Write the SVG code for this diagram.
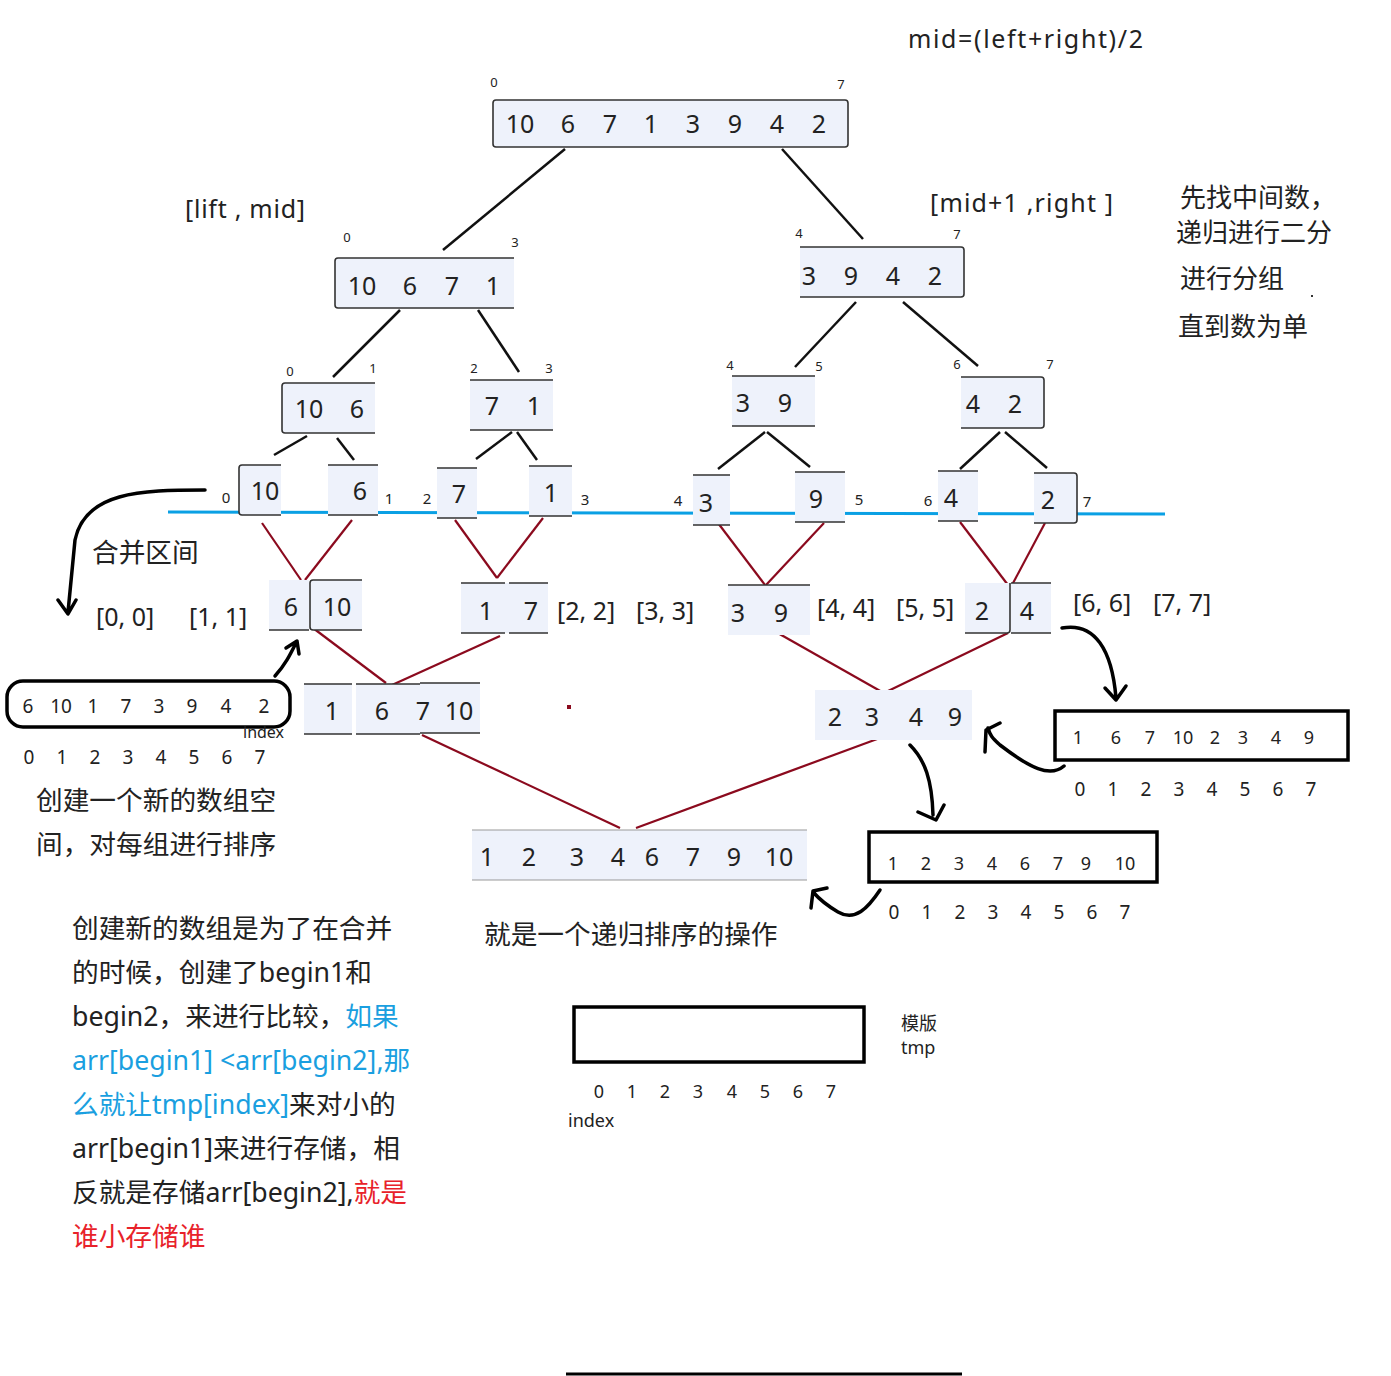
<svg xmlns="http://www.w3.org/2000/svg" width="1391" height="1376" viewBox="0 0 1391 1376">
<style>
text{font-family:"Noto Sans","Noto Sans CJK SC",sans-serif;fill:#222}
.n{font-size:25px;text-anchor:middle}
.i{font-size:13px;text-anchor:middle}
.s{font-size:19px;text-anchor:middle}
.cn{font-size:26.7px}
.nt{font-size:26px}
.lb{font-size:25px}
.cell{fill:#eef2fb}
.bd{fill:none;stroke:#333;stroke-width:1.6}
.tree{stroke:#111;stroke-width:2.5;fill:none}
.merge{stroke:#8b0a1e;stroke-width:2.2;fill:none}
.hand{stroke:#000;stroke-width:3.5;fill:none;stroke-linecap:round;stroke-linejoin:round}
.box{fill:none;stroke:#000;stroke-width:3.5}
.blue{fill:#1a9fe0}
.red{fill:#e8222a}
</style>
<rect width="1391" height="1376" fill="#fff"/>

<text class="lb" x="908" y="48" textLength="235" lengthAdjust="spacing">mid=(left+right)/2</text>
<text class="lb" x="185" y="218" textLength="120" lengthAdjust="spacing">[lift , mid]</text>
<text class="lb" x="930" y="212" textLength="183" lengthAdjust="spacing">[mid+1 ,right ]</text>

<g id="connectors">
<line class="tree" x1="565" y1="149" x2="443" y2="250"/>
<line class="tree" x1="782" y1="149" x2="863" y2="239"/>
<line class="tree" x1="400" y1="310" x2="333" y2="377"/>
<line class="tree" x1="478" y1="310" x2="519" y2="372"/>
<line class="tree" x1="856" y1="302" x2="795" y2="367"/>
<line class="tree" x1="903" y1="302" x2="978" y2="366"/>
<line class="tree" x1="307" y1="436" x2="274" y2="455"/>
<line class="tree" x1="337" y1="438" x2="354" y2="460"/>
<line class="tree" x1="512" y1="432" x2="476" y2="459"/>
<line class="tree" x1="517" y1="432" x2="537" y2="460"/>
<line class="tree" x1="765" y1="432" x2="718" y2="469"/>
<line class="tree" x1="767" y1="432" x2="810" y2="467"/>
<line class="tree" x1="1000" y1="432" x2="960" y2="469"/>
<line class="tree" x1="1005" y1="432" x2="1047" y2="468"/>
<line x1="168" y1="512" x2="1165" y2="514" stroke="#0aa0e4" stroke-width="3"/>
<line class="merge" x1="262" y1="523" x2="301" y2="580"/>
<line class="merge" x1="352" y1="520" x2="305" y2="580"/>
<line class="merge" x1="455" y1="520" x2="497" y2="578"/>
<line class="merge" x1="543" y1="518" x2="497" y2="578"/>
<line class="merge" x1="718" y1="523" x2="765" y2="585"/>
<line class="merge" x1="824" y1="523" x2="766" y2="585"/>
<line class="merge" x1="960" y1="522" x2="1008" y2="585"/>
<line class="merge" x1="1045" y1="523" x2="1012" y2="585"/>
<line class="merge" x1="313" y1="628" x2="386" y2="683"/>
<line class="merge" x1="500" y1="636" x2="392" y2="685"/>
<line class="merge" x1="776" y1="632" x2="882" y2="692"/>
<line class="merge" x1="1008" y1="633" x2="886" y2="692"/>
<line class="merge" x1="422" y1="735" x2="620" y2="828"/>
<line class="merge" x1="888" y1="735" x2="636" y2="828"/>
<rect x="567" y="705" width="4" height="4" fill="#8b0a1e"/>
<path class="hand" d="M205,490 C140,490 85,492 75,540 L68,612 M58,600 L68,614 L76,600"/>
<path class="hand" d="M275,676 C285,665 290,655 296,643 M286,648 L297,641 L299,654"/>
<path class="hand" d="M1062,628 C1095,622 1112,650 1116,698 M1105,688 L1116,700 L1126,686"/>
<path class="hand" d="M1064,766 C1050,778 1030,768 1000,745 C992,738 990,735 988,728 M985,752 L986,730 L1000,723"/>
<path class="hand" d="M910,745 C925,760 932,780 933,815 M918,812 L936,820 L944,805"/>
<path class="hand" d="M880,890 C868,908 855,922 838,912 C828,906 820,900 814,893 M811,908 L813,891 L827,888"/>
</g>

<g id="n-root">
<rect class="cell" x="493" y="100" width="355" height="47" rx="3"/>
<rect class="bd" x="493" y="100" width="355" height="47" rx="3"/>
<text class="i" x="494" y="87">0</text><text class="i" x="841" y="89">7</text>
<text class="n" y="133"><tspan x="520">10</tspan><tspan x="568">6</tspan><tspan x="610">7</tspan><tspan x="651">1</tspan><tspan x="693">3</tspan><tspan x="735">9</tspan><tspan x="777">4</tspan><tspan x="819">2</tspan></text>
</g>

<g id="n-l">
<rect class="cell" x="335" y="258" width="179" height="50"/>
<path class="bd" d="M514,258 H338 Q335,258 335,261 V305 Q335,308 338,308 H514"/>
<text class="i" x="347" y="242">0</text><text class="i" x="515" y="247">3</text>
<text class="n" y="295"><tspan x="362">10</tspan><tspan x="410">6</tspan><tspan x="452">7</tspan><tspan x="493">1</tspan></text>
</g>
<g id="n-r">
<rect class="cell" x="800" y="247" width="164" height="50"/>
<path class="bd" d="M800,247 H961 Q964,247 964,250 V294 Q964,297 961,297 H800"/>
<text class="i" x="799" y="238">4</text><text class="i" x="957" y="239">7</text>
<text class="n" y="285"><tspan x="809">3</tspan><tspan x="851">9</tspan><tspan x="893">4</tspan><tspan x="935">2</tspan></text>
</g>

<g id="n-ll">
<rect class="cell" x="282" y="383" width="93" height="50"/>
<path class="bd" d="M375,383 H285 Q282,383 282,386 V430 Q282,433 285,433 H375"/>
<text class="i" x="290" y="376">0</text><text class="i" x="373" y="373">1</text>
<text class="n" y="418"><tspan x="309">10</tspan><tspan x="357">6</tspan></text>
</g>
<g id="n-lr">
<rect class="cell" x="470" y="380" width="83" height="50"/>
<path class="bd" d="M470,380 H553 M470,430 H553"/>
<text class="i" x="474" y="373">2</text><text class="i" x="549" y="373">3</text>
<text class="n" y="415"><tspan x="492">7</tspan><tspan x="534">1</tspan></text>
</g>
<g id="n-rl">
<rect class="cell" x="732" y="376" width="83" height="50"/>
<path class="bd" d="M732,376 H815 M732,426 H815"/>
<text class="i" x="730" y="370">4</text><text class="i" x="819" y="371">5</text>
<text class="n" y="412"><tspan x="743">3</tspan><tspan x="785">9</tspan></text>
</g>
<g id="n-rr">
<rect class="cell" x="961" y="377" width="83" height="51"/>
<path class="bd" d="M961,377 H1041 Q1044,377 1044,380 V425 Q1044,428 1041,428 H961"/>
<text class="i" x="957" y="369">6</text><text class="i" x="1050" y="369">7</text>
<text class="n" y="413"><tspan x="973">4</tspan><tspan x="1015">2</tspan></text>
</g>

<g id="leaf0">
<rect class="cell" x="239" y="465" width="42" height="50"/>
<path class="bd" d="M281,465 H242 Q239,465 239,468 V512 Q239,515 242,515 H281"/>
<text class="i" x="226" y="503" style="font-size:15px">0</text>
<text class="n" x="265" y="500">10</text>
</g>
<g id="leaf1">
<rect class="cell" x="328" y="465" width="50" height="50"/>
<path class="bd" d="M328,465 H378 M328,515 H378"/>
<text class="i" x="389" y="504" style="font-size:15px">1</text>
<text class="n" x="360" y="500">6</text>
</g>
<g id="leaf2">
<rect class="cell" x="437" y="468" width="40" height="50"/>
<path class="bd" d="M437,468 H477 M437,518 H477"/>
<text class="i" x="427" y="504" style="font-size:15px">2</text>
<text class="n" x="459" y="503">7</text>
</g>
<g id="leaf3">
<rect class="cell" x="529" y="466" width="43" height="50"/>
<path class="bd" d="M529,466 H572 M529,516 H572"/>
<text class="i" x="585" y="505" style="font-size:15px">3</text>
<text class="n" x="551" y="502">1</text>
</g>
<g id="leaf4">
<rect class="cell" x="693" y="475" width="37" height="50"/>
<path class="bd" d="M693,475 H730 M693,525 H730"/>
<text class="i" x="678" y="506" style="font-size:15px">4</text>
<text class="n" x="706" y="512">3</text>
</g>
<g id="leaf5">
<rect class="cell" x="795" y="472" width="50" height="50"/>
<path class="bd" d="M795,472 H845 M795,522 H845"/>
<text class="i" x="859" y="505" style="font-size:15px">5</text>
<text class="n" x="816" y="508">9</text>
</g>
<g id="leaf6">
<rect class="cell" x="938" y="471" width="40" height="50"/>
<path class="bd" d="M938,471 H978 M938,521 H978"/>
<text class="i" x="928" y="506" style="font-size:15px">6</text>
<text class="n" x="951" y="507">4</text>
</g>
<g id="leaf7">
<rect class="cell" x="1034" y="473" width="43" height="50"/>
<path class="bd" d="M1034,473 H1074 Q1077,473 1077,476 V520 Q1077,523 1074,523 H1034"/>
<text class="i" x="1087" y="507" style="font-size:15px">7</text>
<text class="n" x="1048" y="509">2</text>
</g>

<g id="n-m01">
<rect class="cell" x="269" y="580" width="40" height="50"/>
<rect class="cell" x="310" y="580" width="52" height="50"/>
<path class="bd" d="M269,630 H309 M362,580 H313 Q310,580 310,583 V627 Q310,630 313,630 H362"/>
<text class="n" y="616"><tspan x="291">6</tspan><tspan x="337">10</tspan></text>
</g>
<g id="n-m23">
<rect class="cell" x="461" y="583" width="48" height="50"/>
<rect class="cell" x="509" y="583" width="39" height="50"/>
<path class="bd" d="M461,583 H505 M461,633 H505 M509,583 H548 M509,633 H548"/>
<text class="n" y="620"><tspan x="486">1</tspan><tspan x="531">7</tspan></text>
</g>
<g id="n-m45">
<rect class="cell" x="728" y="585" width="82" height="50"/>
<path class="bd" d="M728,585 H810"/>
<text class="n" y="622"><tspan x="738">3</tspan><tspan x="781">9</tspan></text>
</g>
<g id="n-m67">
<rect class="cell" x="965" y="583" width="45" height="50"/>
<rect class="cell" x="1011" y="583" width="40" height="50"/>
<path class="bd" d="M965,633 H1007 Q1010,633 1010,630 V583 M1011,583 H1051 M1011,633 H1051"/>
<text class="n" y="620"><tspan x="982">2</tspan><tspan x="1027">4</tspan></text>
</g>
<text class="lb" y="620"><tspan x="557">[2, 2]</tspan><tspan x="636">[3, 3]</tspan></text>
<text class="lb" y="617"><tspan x="817">[4, 4]</tspan><tspan x="896">[5, 5]</tspan></text>
<text class="lb" y="612"><tspan x="1073">[6, 6]</tspan><tspan x="1153">[7, 7]</tspan></text>
<text class="cn" x="92" y="562">合并区间</text>
<text class="lb" y="626"><tspan x="96">[0, 0]</tspan><tspan x="189">[1, 1]</tspan></text>

<g id="n-m0123">
<rect class="cell" x="304" y="684" width="48" height="50"/>
<rect class="cell" x="356" y="684" width="64" height="50"/>
<rect class="cell" x="420" y="683" width="60" height="50"/>
<path class="bd" d="M304,684 H352 M304,734 H352 M356,684 H420 M356,734 H420 M420,683 H480 M420,733 H480"/>
<text class="n" y="720"><tspan x="332">1</tspan><tspan x="382">6</tspan><tspan x="423">7</tspan><tspan x="459">10</tspan></text>
</g>
<g id="n-m4567">
<rect class="cell" x="815" y="690" width="157" height="50"/>
<text class="n" y="726"><tspan x="835">2</tspan><tspan x="872">3</tspan><tspan x="916">4</tspan><tspan x="955">9</tspan></text>
</g>
<g id="n-final">
<rect class="cell" x="472" y="830" width="335" height="50"/>
<path d="M472,830 H807 M472,880 H807" stroke="#999" stroke-width="1" fill="none"/>
<text class="n" y="866"><tspan x="487">1</tspan><tspan x="529">2</tspan><tspan x="577">3</tspan><tspan x="618">4</tspan><tspan x="652">6</tspan><tspan x="693">7</tspan><tspan x="734">9</tspan><tspan x="779">10</tspan></text>
</g>

<g id="arr-left">
<rect class="box" x="7" y="681" width="283" height="46" rx="16"/>
<text class="s" y="713"><tspan x="28">6</tspan><tspan x="61">10</tspan><tspan x="93">1</tspan><tspan x="126">7</tspan><tspan x="159">3</tspan><tspan x="192">9</tspan><tspan x="226">4</tspan><tspan x="264">2</tspan></text>
<text x="243" y="738" style="font-size:16px">index</text>
<text class="s" y="764"><tspan x="29">0</tspan><tspan x="62">1</tspan><tspan x="95">2</tspan><tspan x="128">3</tspan><tspan x="161">4</tspan><tspan x="194">5</tspan><tspan x="227">6</tspan><tspan x="260">7</tspan></text>
</g>
<text class="cn" x="36" y="810">创建一个新的数组空</text>
<text class="cn" x="36" y="854">间，对每组进行排序</text>

<g id="arr-right1">
<rect class="box" x="1055" y="711" width="293" height="49"/>
<text class="s" y="744" style="font-size:18px"><tspan x="1078">1</tspan><tspan x="1116">6</tspan><tspan x="1150">7</tspan><tspan x="1183">10</tspan><tspan x="1215">2</tspan><tspan x="1243">3</tspan><tspan x="1276">4</tspan><tspan x="1309">9</tspan></text>
<text class="s" y="796"><tspan x="1080">0</tspan><tspan x="1113">1</tspan><tspan x="1146">2</tspan><tspan x="1179">3</tspan><tspan x="1212">4</tspan><tspan x="1245">5</tspan><tspan x="1278">6</tspan><tspan x="1311">7</tspan></text>
</g>
<g id="arr-right2">
<rect class="box" x="869" y="832" width="288" height="50"/>
<text class="s" y="870" style="font-size:18px"><tspan x="893">1</tspan><tspan x="926">2</tspan><tspan x="959">3</tspan><tspan x="992">4</tspan><tspan x="1025">6</tspan><tspan x="1058">7</tspan><tspan x="1086">9</tspan><tspan x="1125">10</tspan></text>
<text class="s" y="919"><tspan x="894">0</tspan><tspan x="927">1</tspan><tspan x="960">2</tspan><tspan x="993">3</tspan><tspan x="1026">4</tspan><tspan x="1059">5</tspan><tspan x="1092">6</tspan><tspan x="1125">7</tspan></text>
</g>

<text class="cn" x="484" y="944">就是一个递归排序的操作</text>

<g id="para">
<text class="cn" x="72" y="938">创建新的数组是为了在合并</text>
<text class="cn" x="72" y="982">的时候，创建了begin1和</text>
<text class="cn" x="72" y="1026">begin2，来进行比较，<tspan class="blue">如果</tspan></text>
<text class="cn blue" x="72" y="1070">arr[begin1] &lt;arr[begin2],那</text>
<text class="cn" x="72" y="1114"><tspan class="blue">么就让tmp[index]</tspan>来对小的</text>
<text class="cn" x="72" y="1158">arr[begin1]来进行存储，相</text>
<text class="cn" x="72" y="1202">反就是存储arr[begin2],<tspan class="red">就是</tspan></text>
<text class="cn red" x="72" y="1246">谁小存储谁</text>
</g>

<g id="tmp">
<rect class="box" x="574" y="1007" width="290" height="55"/>
<text x="901" y="1030" style="font-size:18px">模版</text>
<text x="901" y="1054" style="font-size:18px">tmp</text>
<text class="s" y="1098" style="font-size:18px"><tspan x="599">0</tspan><tspan x="632">1</tspan><tspan x="665">2</tspan><tspan x="698">3</tspan><tspan x="732">4</tspan><tspan x="765">5</tspan><tspan x="798">6</tspan><tspan x="831">7</tspan></text>
<text x="568" y="1127" style="font-size:18px">index</text>
</g>

<g id="note">
<text class="nt" x="1180" y="207">先找中间数，</text>
<text class="nt" x="1176" y="242">递归进行二分</text>
<text class="nt" x="1180" y="288">进行分组</text>
<text class="nt" x="1178" y="336">直到数为单</text>
<rect x="1311" y="295" width="2" height="2" fill="#333"/>
</g>
<line x1="566" y1="1374" x2="962" y2="1374" stroke="#000" stroke-width="3"/>
</svg>
